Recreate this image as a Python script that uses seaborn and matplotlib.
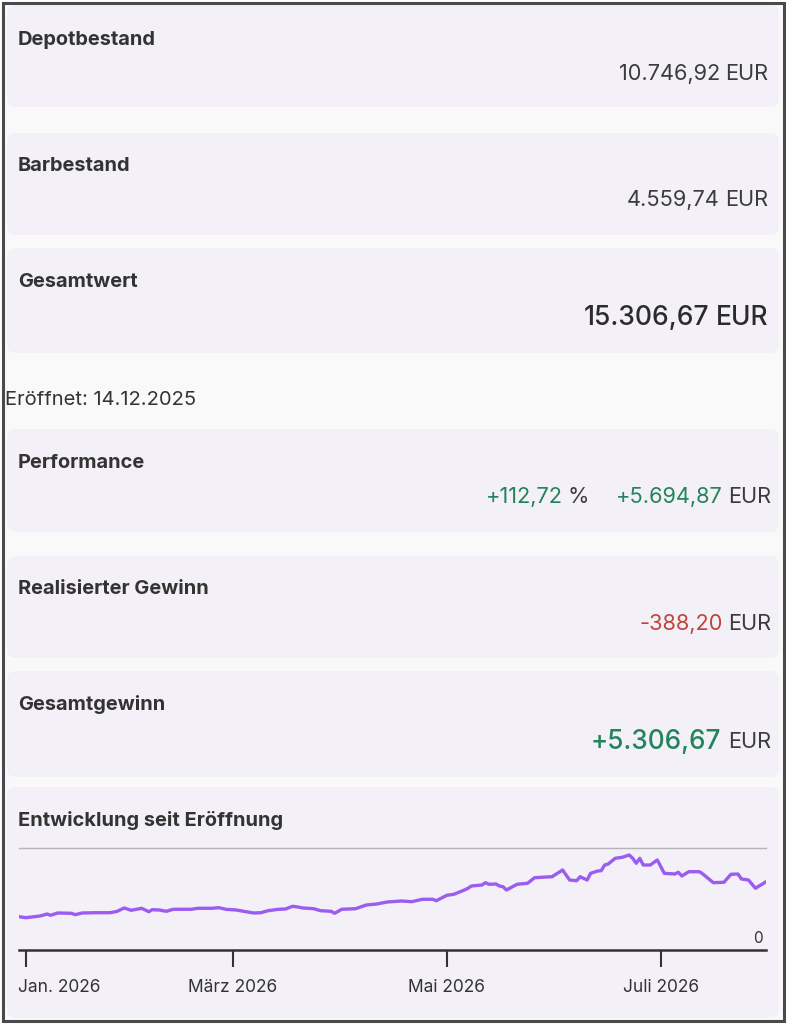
import matplotlib
matplotlib.use("Agg")
import matplotlib.pyplot as plt
from matplotlib.patches import FancyBboxPatch, Rectangle
from matplotlib.transforms import ScaledTranslation
import pandas as pd
import seaborn as sns

# ---------------- data ----------------
line_dates = [
    "2025-12-30", "2026-01-01", "2026-01-05", "2026-01-07", "2026-01-08", "2026-01-10",
    "2026-01-14", "2026-01-15", "2026-01-17", "2026-01-21", "2026-01-25", "2026-01-27",
    "2026-01-29", "2026-01-31", "2026-02-03", "2026-02-05", "2026-02-06", "2026-02-08",
    "2026-02-10", "2026-02-12", "2026-02-17", "2026-02-19", "2026-02-23", "2026-02-25",
    "2026-02-27", "2026-03-02", "2026-03-04", "2026-03-07", "2026-03-09", "2026-03-11",
    "2026-03-14", "2026-03-16", "2026-03-18", "2026-03-19", "2026-03-21", "2026-03-24",
    "2026-03-26", "2026-03-29", "2026-03-30", "2026-04-01", "2026-04-05", "2026-04-08",
    "2026-04-11", "2026-04-14", "2026-04-18", "2026-04-21", "2026-04-24", "2026-04-27",
    "2026-04-28", "2026-05-01", "2026-05-03", "2026-05-06", "2026-05-07", "2026-05-08",
    "2026-05-11", "2026-05-12", "2026-05-13", "2026-05-15", "2026-05-16", "2026-05-17",
    "2026-05-18", "2026-05-21", "2026-05-24", "2026-05-26", "2026-05-31", "2026-06-03",
    "2026-06-05", "2026-06-07", "2026-06-08", "2026-06-10", "2026-06-11", "2026-06-13",
    "2026-06-14", "2026-06-15", "2026-06-16", "2026-06-18", "2026-06-20", "2026-06-22",
    "2026-06-23", "2026-06-24", "2026-06-25", "2026-06-26", "2026-06-28", "2026-06-30",
    "2026-07-02", "2026-07-05", "2026-07-06", "2026-07-07", "2026-07-09", "2026-07-12",
    "2026-07-13", "2026-07-16", "2026-07-19", "2026-07-21", "2026-07-23", "2026-07-24",
    "2026-07-26", "2026-07-28", "2026-07-29", "2026-07-30", "2026-07-31",
]
line_values = [
    33.3, 32.3, 34.0, 36.0, 34.7, 37.0,
    36.7, 35.3, 37.0, 37.3, 37.3, 38.7,
    42.0, 39.7, 41.7, 38.3, 40.3, 40.0,
    38.7, 40.7, 40.7, 41.7, 41.7, 42.3,
    40.7, 40.0, 38.7, 37.0, 37.3, 39.3,
    40.7, 41.0, 43.7, 43.3, 42.0, 41.3,
    39.3, 38.7, 36.7, 40.7, 41.3, 45.0,
    46.0, 48.0, 49.0, 48.3, 50.7, 50.7,
    49.3, 54.7, 55.7, 60.0, 61.7, 64.0,
    65.0, 67.3, 65.7, 66.0, 64.0, 63.3,
    60.0, 65.7, 66.7, 72.3, 73.3, 80.0,
    70.0, 69.3, 73.3, 70.0, 76.7, 79.0,
    79.3, 85.0, 86.0, 91.7, 92.7, 95.0,
    91.7, 86.7, 91.7, 85.0, 85.0, 90.0,
    76.7, 76.0, 77.7, 74.0, 78.3, 78.3,
    76.0, 67.3, 67.7, 75.7, 76.0, 71.0,
    70.0, 61.7, 64.0, 66.0, 68.3,
]
y_max = 102.0

tick_dates = ["2026-01-01", "2026-03-01", "2026-05-01", "2026-07-01"]
tick_labels = ["Jan. 2026", "März 2026", "Mai 2026", "Juli 2026"]

card_titles = ["Depotbestand", "Barbestand", "Gesamtwert", "Performance",
               "Realisierter Gewinn", "Gesamtgewinn", "Entwicklung seit Eröffnung"]
depot_value = "10.746,92"
bar_value = "4.559,74"
total_value = "15.306,67"
perf_pct = "+112,72"
perf_eur = "+5.694,87"
realized_value = "-388,20"
total_gain_value = "+5.306,67"
opened_label = "Eröffnet: 14.12.2025"
currency = "EUR"
zero_label = "0"

# ---------------- style ----------------
sns.set_theme(style="white")
plt.rcParams["font.family"] = ["Inter", "DejaVu Sans"]

W, H = 787, 1024
PAGE = "#f9f9fa"
CARD = "#f3f0f7"
TXT = "#333333"
VAL = "#3c3c3c"
GREEN = "#23845c"
RED = "#c0453a"
PURPLE = "#9b5cf0"

fig = plt.figure(figsize=(W / 100, H / 100), dpi=100)
fig.patch.set_facecolor("white")
bg = fig.add_axes([0, 0, 1, 1])
bg.set_xlim(0, W)
bg.set_ylim(H, 0)
bg.axis("off")

bg.add_patch(Rectangle((3, 3), W - 6, H - 6, facecolor=PAGE, edgecolor="none", zorder=0))

cards = [(5, 107), (133, 235), (248, 353), (429, 532), (556, 658), (671, 777), (787, 1018)]
for (y0, y1) in cards:
    bg.add_patch(FancyBboxPatch((7, y0), 772, y1 - y0,
                                boxstyle="round,pad=0,rounding_size=9",
                                facecolor=CARD, edgecolor="none", zorder=1))

# frame
bg.add_patch(Rectangle((3, 3), W - 6, H - 6, facecolor="none", edgecolor="#4a4a4a",
                       lw=2.2, zorder=10))

TITLE_SIZE = 14.4
VAL_SIZE = 15.7
BIG_SIZE = 19.0

title_y = [40, 166, 282, 463, 589, 705, 820]
for t, y in zip(card_titles, title_y):
    bg.text(18, y, t, fontsize=TITLE_SIZE, fontweight="bold", color=TXT,
            ha="left", va="center", zorder=5)

renderer = fig.canvas.get_renderer()


def right_chain(x_right, y, pieces):
    """pieces: list of (text, color, size, weight, gap_after_px) drawn right-to-left"""
    x = x_right
    for text, color, size, weight, gap in reversed(pieces):
        x -= gap
        t = bg.text(x, y, text, fontsize=size, fontweight=weight, color=color,
                    ha="right", va="center", zorder=5)
        bb = t.get_window_extent(renderer=renderer)
        x -= bb.width


right_chain(768, 74, [(depot_value, VAL, VAL_SIZE, "normal", 5), (currency, VAL, VAL_SIZE, "normal", 0)])
right_chain(768, 200, [(bar_value, VAL, VAL_SIZE, "normal", 5), (currency, VAL, VAL_SIZE, "normal", 0)])
right_chain(768, 318, [(total_value, "#2b2b2b", BIG_SIZE, "medium", 6),
                       (currency, "#2b2b2b", BIG_SIZE, "medium", 0)])
bg.text(5, 400, opened_label, fontsize=14.5, color=TXT, ha="left", va="center", zorder=5)
right_chain(771, 497, [(perf_pct, GREEN, VAL_SIZE, "normal", 5), ("%", VAL, VAL_SIZE, "normal", 27),
                       (perf_eur, GREEN, VAL_SIZE, "normal", 5), (currency, VAL, VAL_SIZE, "normal", 0)])
right_chain(771, 624, [(realized_value, RED, VAL_SIZE, "normal", 5), (currency, VAL, VAL_SIZE, "normal", 0)])
right_chain(771, 742, [(total_gain_value, GREEN, 18.8, "medium", 7), (currency, VAL, VAL_SIZE, "normal", 0)])

# ---------------- chart ----------------
df = pd.DataFrame({"Datum": pd.to_datetime(line_dates), "Wert": line_values})
x_left_px, x_right_px = 19, 766
base_px, top_px = 950, 848
ax = fig.add_axes([x_left_px / W, (H - base_px) / H,
                   (x_right_px - x_left_px) / W, (base_px - top_px) / H])
ax.set_facecolor("none")
sns.lineplot(data=df, x="Datum", y="Wert", ax=ax, color=PURPLE, lw=2.4, zorder=4)
ax.set_xlim(df["Datum"].iloc[0], df["Datum"].iloc[-1])
ax.set_ylim(0, y_max)
ax.set_xlabel("")
ax.set_ylabel("")
ax.set_yticks([])
ax.set_xticks(pd.to_datetime(tick_dates))
ax.set_xticklabels(tick_labels)
for sp in ["left", "right"]:
    ax.spines[sp].set_visible(False)
ax.spines["top"].set_color("#b5b5b8")
ax.spines["top"].set_linewidth(1.0)
ax.spines["bottom"].set_color("#333333")
ax.spines["bottom"].set_linewidth(1.8)
ax.tick_params(axis="x", direction="out", length=12, width=1.5, color="#333333",
               pad=9, labelsize=12.5, labelcolor=TXT, bottom=True)
first = ax.get_xticklabels()[0]
first.set_horizontalalignment("left")
first.set_transform(first.get_transform() + ScaledTranslation(-8 / 100, 0, fig.dpi_scale_trans))
ax.annotate(zero_label, xy=(1, 0), xycoords="axes fraction", xytext=(-2, 3),
            textcoords="offset points", ha="right", va="bottom", fontsize=11, color=TXT)

fig.savefig("out.png", dpi=100, facecolor="white")
